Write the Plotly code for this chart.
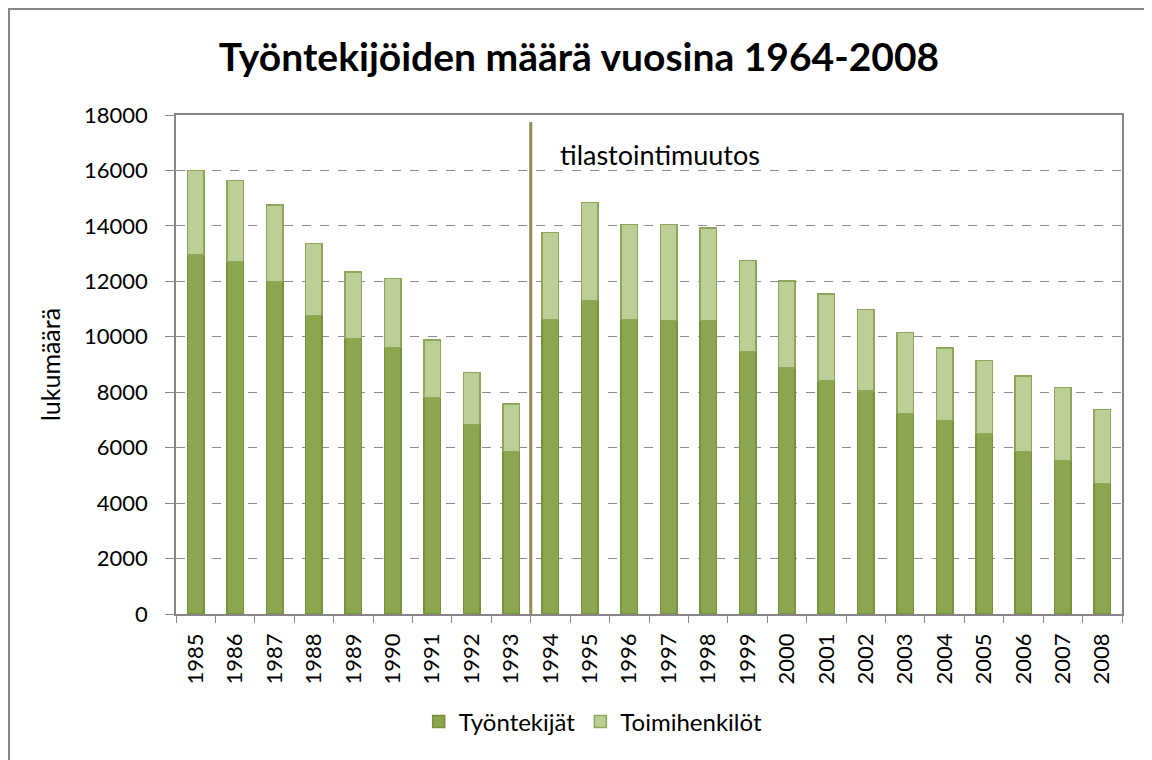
import plotly.graph_objects as go

years = [str(y) for y in range(1985, 2009)]
tyontekijat = [12950, 12710, 12000, 10770, 9930, 9610, 7810, 6830, 5860,
               10630, 11310, 10630, 10580, 10580, 9470, 8870, 8400, 8040,
               7240, 6980, 6510, 5860, 5530, 4700]
totals = [16000, 15630, 14750, 13360, 12340, 12110, 9880, 8720, 7570,
          13770, 14840, 14050, 14050, 13920, 12750, 12010, 11550, 10990,
          10160, 9600, 9140, 8580, 8170, 7370]
toimihenkilot = [t - w for t, w in zip(totals, tyontekijat)]

title_text = "Työntekijöiden määrä vuosina 1964-2008"
y_title = "lukumäärä"
note_text = "tilastointimuutos"
break_pos = 8.5
break_top = 17750

FONT = "Lato"
W, H = 1144, 752
L, R, T, B = 168, 30, 107, 146
PW, PH = W - L - R, H - T - B

fig = go.Figure()
fig.add_trace(go.Bar(x=years, y=tyontekijat, name="Työntekijät",
                     marker=dict(color="#8AA64F", line=dict(color="#76923C", width=1.5)),
                     width=0.42))
fig.add_trace(go.Bar(x=years, y=toimihenkilot, name="Toimihenkilöt",
                     marker=dict(color="#BBCF97", line=dict(color="#8CA65A", width=1.5)),
                     width=0.42))

fig.add_shape(type="line", xref="x", yref="y", x0=break_pos, x1=break_pos,
              y0=0, y1=break_top, line=dict(color="#948A54", width=3))
fig.add_annotation(xref="x", yref="y", x=9.2, y=16560, text=note_text,
                   showarrow=False, xanchor="left", yanchor="middle",
                   font=dict(family=FONT, size=27, color="#000000"))

# outer chart border
fig.add_shape(type="rect", xref="paper", yref="paper",
              x0=(1 - L) / PW, x1=(1142 - L) / PW,
              y0=-(H + 6 - (T + PH)) / PH, y1=(T + PH - 1) / PH,
              line=dict(color="#868686", width=2), fillcolor="rgba(0,0,0,0)", layer="below")

fig.update_layout(
    barmode="stack",
    width=W, height=H,
    paper_bgcolor="white", plot_bgcolor="white",
    margin=dict(l=L, r=R, t=T, b=B, autoexpand=False),
    title=dict(text="<b>" + title_text + "</b>", x=571 / W, xanchor="center",
               y=1 - 49 / H, yanchor="middle",
               font=dict(family=FONT, size=39, color="#000000")),
    font=dict(family=FONT, size=22, color="#000000"),
    legend=dict(orientation="h", x=0.441, xanchor="center", y=-0.216, yanchor="middle",
                font=dict(family=FONT, size=24), traceorder="normal",
                itemwidth=30, bgcolor="rgba(0,0,0,0)"),
)
fig.update_xaxes(type="category", tickangle=-90, ticks="outside", ticklen=7,
                 tickcolor="#868686", tickson="boundaries",
                 showline=True, linecolor="#868686", linewidth=1.5, mirror=True,
                 showgrid=False, tickfont=dict(family=FONT, size=22),
                 ticklabelstandoff=9, automargin=False,
                 range=[-0.5, 23.5])
fig.update_yaxes(range=[0, 18000], dtick=2000, tickformat="d", ticks="outside", ticklen=9,
                 tickcolor="#868686", showline=True, linecolor="#868686", linewidth=1.5,
                 mirror=True, showgrid=True, gridcolor="#8C8C8C", griddash="dash",
                 gridwidth=1, zeroline=False, tickfont=dict(family=FONT, size=22),
                 ticklabelstandoff=13, automargin=False,
                 title=dict(text=y_title, font=dict(family=FONT, size=25), standoff=16))

fig.write_html("out.html")
